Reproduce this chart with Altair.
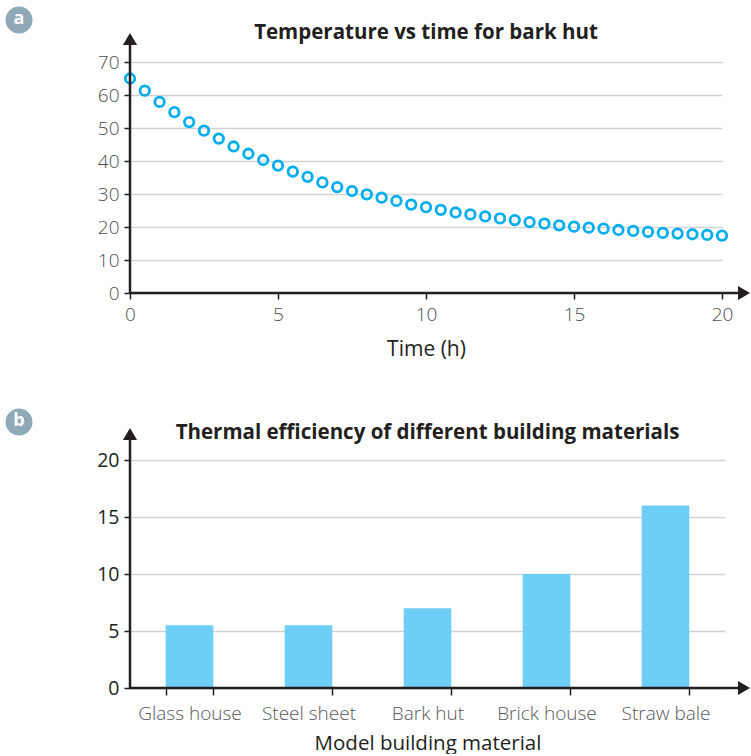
import altair as alt
import pandas as pd

# ---- data ----
times = [0, 0.5, 1, 1.5, 2, 2.5, 3, 3.5, 4, 4.5, 5, 5.5, 6, 6.5, 7, 7.5, 8, 8.5, 9, 9.5,
         10, 10.5, 11, 11.5, 12, 12.5, 13, 13.5, 14, 14.5, 15, 15.5, 16, 16.5, 17, 17.5,
         18, 18.5, 19, 19.5, 20]
temps = [65, 61.3, 57.9, 54.8, 51.8, 49.2, 46.8, 44.4, 42.2, 40.3, 38.6, 36.8, 35.2, 33.5,
         32.1, 30.9, 29.9, 28.9, 27.9, 26.8, 26.0, 25.2, 24.4, 23.8, 23.2, 22.6, 22.1, 21.5,
         21.0, 20.5, 20.1, 19.8, 19.5, 19.1, 18.8, 18.5, 18.2, 18.0, 17.8, 17.6, 17.4]
materials = ["Glass house", "Steel sheet", "Bark hut", "Brick house", "Straw bale"]
efficiency = [5.5, 5.5, 7, 10, 16]
x_ticks_a = [0, 5, 10, 15, 20]
y_ticks_a = [0, 10, 20, 30, 40, 50, 60, 70]
y_ticks_b = [0, 5, 10, 15, 20]

df_a = pd.DataFrame({"Time": times, "Temp": temps})
df_b = pd.DataFrame({"Material": materials, "Eff": efficiency})

INK = "#231f20"
GRID = "#d1d3d4"
BADGE = "#8fa9b8"
LABEL = "#4d4d4f"
SANS = "Open Sans"

W1, H1 = 592, 231
W2, H2 = 595, 228
one = alt.Data(values=[{}])


def decorations(W, H, arrow_top, head_x, badge_y, letter, title, title_y):
    ax_line = alt.Chart(one).mark_rule(color=INK, strokeWidth=2.5).encode(
        x=alt.value(0), x2=alt.value(head_x - 3), y=alt.value(H))
    ay_line = alt.Chart(one).mark_rule(color=INK, strokeWidth=2.5).encode(
        x=alt.value(0), y=alt.value(H), y2=alt.value(arrow_top + 4))
    ax_head = alt.Chart(one).mark_point(shape="triangle-right", filled=True, color=INK,
                                        size=190, opacity=1).encode(
        x=alt.value(head_x), y=alt.value(H))
    ay_head = alt.Chart(one).mark_point(shape="triangle-up", filled=True, color=INK,
                                        size=200, opacity=1).encode(
        x=alt.value(0), y=alt.value(arrow_top))
    badge = alt.Chart(one).mark_point(shape="circle", filled=True, color=BADGE,
                                      size=729, opacity=1).encode(
        x=alt.value(-111), y=alt.value(badge_y))
    badge_t = alt.Chart(one).mark_text(text=letter, color="white", font=SANS,
                                       fontWeight="bold", fontSize=18,
                                       baseline="middle", align="center", dy=-1).encode(
        x=alt.value(-111), y=alt.value(badge_y))
    ttl = alt.Chart(one).mark_text(text=title, color=INK, font=SANS, fontWeight="bold",
                                   fontSize=20.5, baseline="middle", align="center").encode(
        x=alt.value(W / 2), y=alt.value(title_y))
    return [ax_line, ay_line, ax_head, ay_head, badge, badge_t, ttl]


# ---- chart a ----
pts = alt.Chart(df_a).mark_point(shape="circle", filled=False, color="#00aeef",
                                 strokeWidth=2.8, size=90, opacity=1).encode(
    x=alt.X("Time:Q", scale=alt.Scale(domain=[0, 20], nice=False),
            axis=alt.Axis(values=x_ticks_a, title="Time (h)", grid=False, domain=False,
                          tickColor=INK, tickSize=6, tickWidth=1.5,
                          labelFont=SANS, labelFontSize=19, labelFontWeight=300,
                          labelColor=LABEL, labelPadding=6, labelFlush=False,
                          titleFont=SANS, titleFontSize=21, titleFontWeight="normal",
                          titleColor=INK, titlePadding=14)),
    y=alt.Y("Temp:Q", scale=alt.Scale(domain=[0, 70], nice=False),
            axis=alt.Axis(values=y_ticks_a, title=None, grid=True, gridColor=GRID,
                          gridWidth=1.5, domain=False, tickColor=INK, tickSize=6,
                          tickWidth=1.5, labelFont=SANS, labelFontSize=19,
                          labelFontWeight=300, labelColor=LABEL, labelPadding=5)),
)
chart_a = alt.layer(pts, *decorations(W1, H1, -23, W1 + 22, -42, "a",
                                      "Temperature vs time for bark hut", -29)
                    ).properties(width=W1, height=H1)

# ---- chart b ----
bars = alt.Chart(df_b).mark_bar(color="#6dcff6").encode(
    x=alt.X("Material:N", sort=materials,
            scale=alt.Scale(paddingInner=0.6, paddingOuter=0.3),
            axis=alt.Axis(title="Model building material", labelAngle=0, domain=False,
                          tickBand="extent", tickColor=INK, tickSize=7, tickWidth=1.5,
                          labelFont=SANS, labelFontSize=19, labelFontWeight=300,
                          labelColor="#58595b", labelPadding=9,
                          titleFont=SANS, titleFontSize=20.5, titleFontWeight="normal",
                          titleColor=INK, titlePadding=10)),
    y=alt.Y("Eff:Q", scale=alt.Scale(domain=[0, 20], nice=False),
            axis=alt.Axis(values=y_ticks_b, title=None, grid=True, gridColor=GRID,
                          gridWidth=1.5, domain=False, tickColor=INK, tickSize=6,
                          tickWidth=1.5, labelFont=SANS, labelFontSize=19.5,
                          labelColor=INK, labelPadding=5)),
)
chart_b = alt.layer(bars, *decorations(W2, H2, -26, W2 + 19, -38, "b",
                                       "Thermal efficiency of different building materials",
                                       -27)
                    ).properties(width=W2, height=H2)

chart = alt.vconcat(chart_a, chart_b, spacing=49).properties(
    padding={"left": 5, "top": 6, "right": 0, "bottom": 0},
    background="white",
).configure_view(strokeWidth=0, stroke="transparent")

chart.save("out.html", embed_options={"renderer": "svg", "actions": False})
